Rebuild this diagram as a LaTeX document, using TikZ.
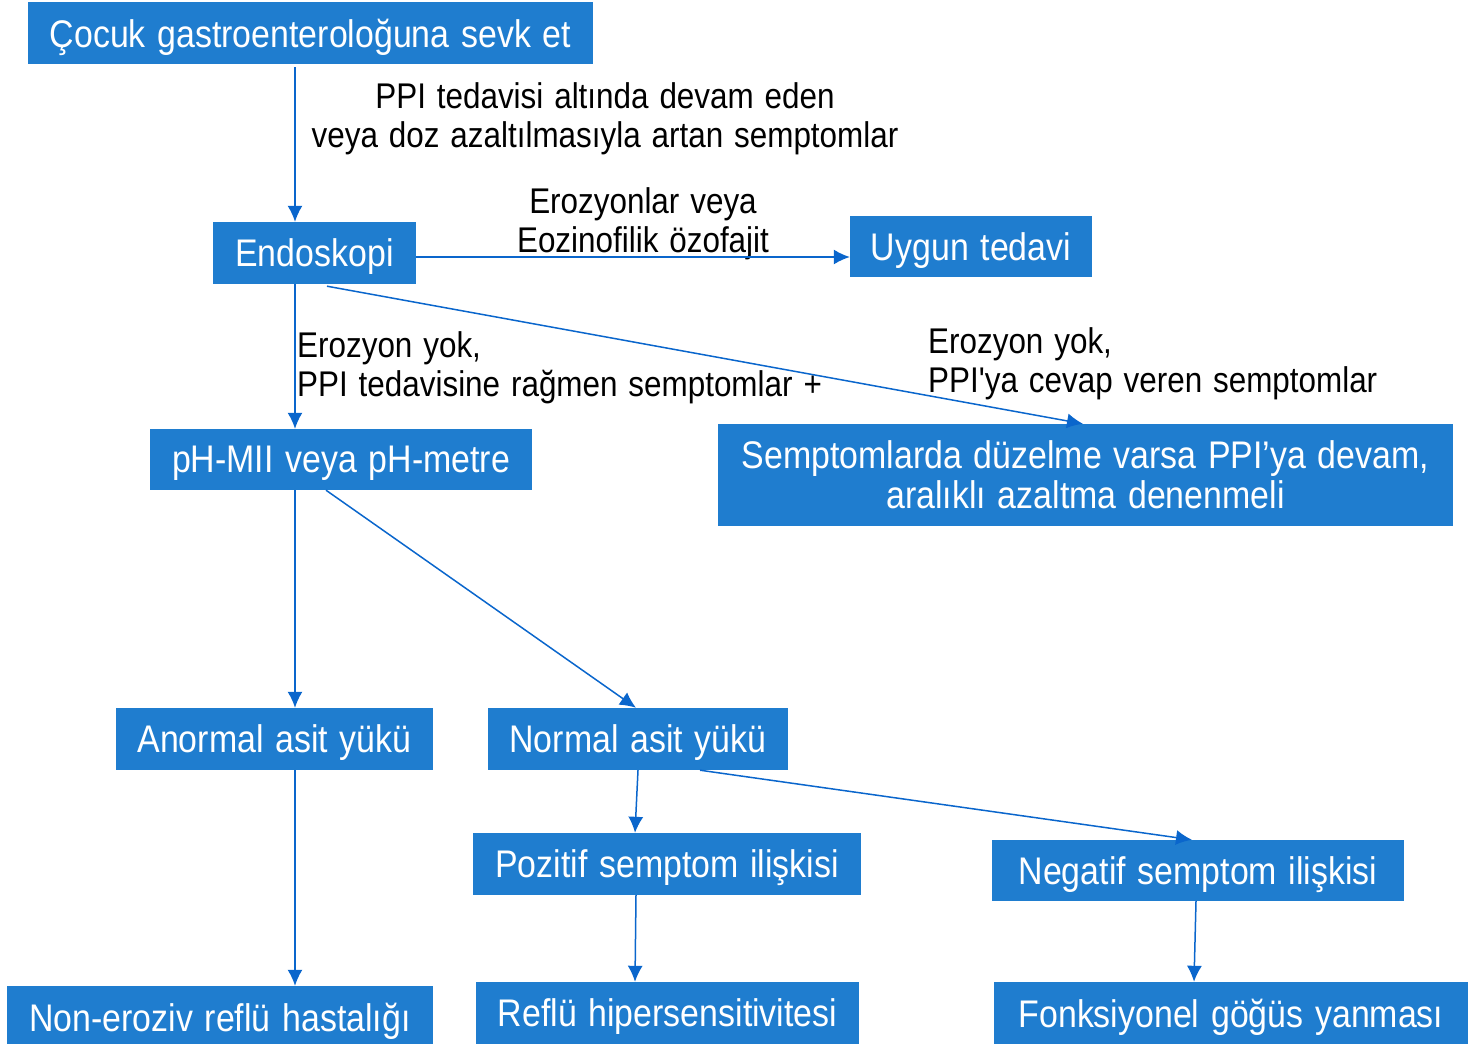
\documentclass[tikz,border=0pt]{standalone}
\usepackage{fontspec}
\setmainfont{Liberation Sans}[FakeStretch=0.88]
\newfontfamily\boxfont{Liberation Sans}[FakeStretch=0.88,WordSpace=1.7]
\newfontfamily\labfont{Liberation Sans}[FakeStretch=0.88,WordSpace=1.25]
\usetikzlibrary{arrows.meta}
\definecolor{boxblue}{RGB}{31,125,207}
\definecolor{arrowblue}{RGB}{10,102,204}
\begin{document}
\begin{tikzpicture}[x=1pt,y=-1pt,
  box/.style={fill=boxblue,text=white,inner sep=0pt,align=center,text depth=0pt,
    font=\boxfont\fontsize{38.5}{40}\selectfont},
  lab/.style={text=black,inner sep=0pt,font=\labfont\fontsize{35.7}{38.5}\selectfont},
  conn/.style={draw=arrowblue,line width=1.5pt,-{Latex[length=16pt,width=15pt]}}]
\useasboundingbox (0,0) rectangle (1470,1044);
\node[box,minimum width=565pt,minimum height=62pt] (n1) at (310.5,33) {Çocuk gastroenteroloğuna sevk et};
\node[box,minimum width=203pt,minimum height=62pt] (endo) at (314.5,253) {Endoskopi};
\node[box,minimum width=242pt,minimum height=61pt] (uygun) at (971,246.5) {Uygun tedavi};
\node[box,minimum width=382pt,minimum height=61pt] (ph) at (341,459.5) {pH-MII veya pH-metre};
\node[box,minimum width=735pt,minimum height=102pt] (sempt) at (1085.5,475) {Semptomlarda düzelme varsa PPI’ya devam,\\aralıklı azaltma denenmeli};
\node[box,minimum width=317pt,minimum height=62pt] (anormal) at (274.5,739) {Anormal asit yükü};
\node[box,minimum width=300pt,minimum height=62pt] (normal) at (638,739) {Normal asit yükü};
\node[box,minimum width=388pt,minimum height=62pt] (pozitif) at (667,864) {Pozitif semptom ilişkisi};
\node[box,minimum width=412pt,minimum height=61pt] (negatif) at (1198,870.5) {Negatif semptom ilişkisi};
\node[box,minimum width=426pt,minimum height=62pt] (noneroz) at (220,1017) {Non-eroziv reflü hastalığı};
\node[box,minimum width=383pt,minimum height=62pt] (reflu) at (667.5,1013) {Reflü hipersensitivitesi};
\node[box,minimum width=474pt,minimum height=62pt] (fonks) at (1231,1013) {Fonksiyonel göğüs yanması};

\node[lab,align=center] (lab1) at (605,119) {PPI tedavisi altında devam eden\\veya doz azaltılmasıyla artan semptomlar};
\node[lab,align=center] (lab2) at (643,224) {Erozyonlar veya\\Eozinofilik özofajit};
\node[lab,align=left,anchor=west] (lab3) at (297,368) {Erozyon yok,\\PPI tedavisine rağmen semptomlar +};
\node[lab,align=left,anchor=west] (lab4) at (928,364) {Erozyon yok,\\PPI'ya cevap veren semptomlar};

\draw[conn] ([xshift=-15.5pt,yshift=-3pt]n1.south) -- ([xshift=-19.5pt]endo.north);
\draw[conn] ([yshift=-4pt]endo.east) -- ([yshift=-10.5pt]uygun.west);
\draw[conn] ([xshift=12.5pt,yshift=-2pt]endo.south) -- ([xshift=-2.5pt]sempt.north);
\draw[conn] ([xshift=-19.5pt]endo.south) -- ([xshift=-46pt]ph.north);
\draw[conn] ([xshift=-46pt]ph.south) -- ([xshift=20.5pt]anormal.north);
\draw[conn] ([xshift=-15pt]ph.south) -- ([xshift=-2pt]normal.north);
\draw[conn] ([xshift=20.5pt]anormal.south) -- ([xshift=75pt]noneroz.north);
\draw[conn] (normal.south) -- ([xshift=-32pt]pozitif.north);
\draw[conn] ([xshift=62pt]normal.south) -- ([xshift=-6pt]negatif.north);
\draw[conn] ([xshift=-31pt]pozitif.south) -- ([xshift=-32.5pt]reflu.north);
\draw[conn] ([xshift=-2pt]negatif.south) -- ([xshift=-37pt]fonks.north);
\end{tikzpicture}
\end{document}
